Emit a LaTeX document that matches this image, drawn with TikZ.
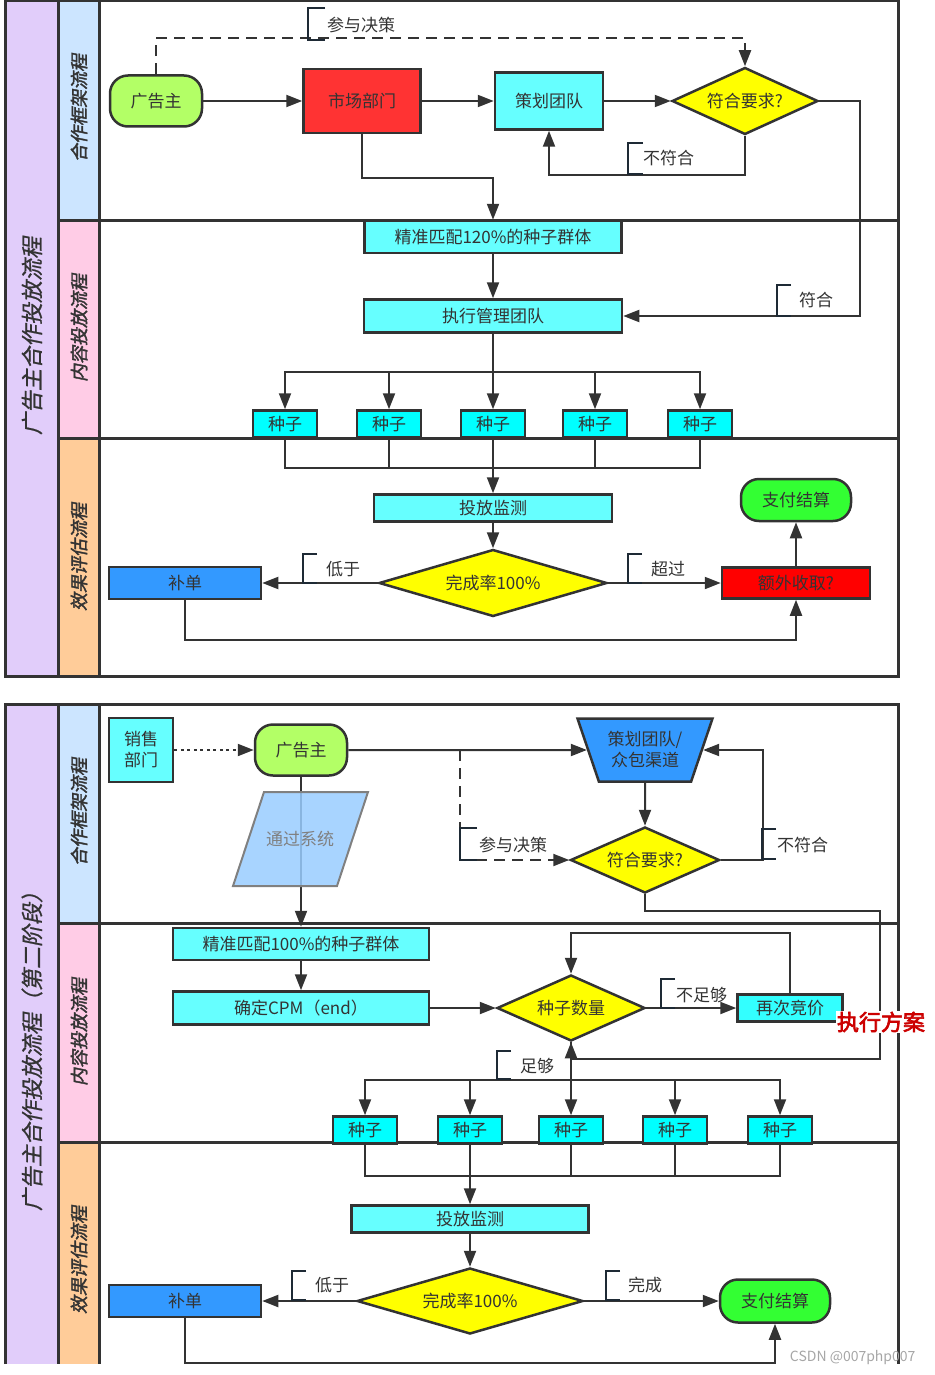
\documentclass[tikz,border=0pt]{standalone}
\usepackage{fontspec}
\setmainfont{Noto Sans CJK SC}
\newfontfamily\lanefont[FakeBold=2,FakeSlant=0.2]{Noto Sans CJK SC}
\newfontfamily\titlefont[FakeBold=0.8,FakeSlant=0.2]{Noto Sans CJK SC}
\newfontfamily\planfont[FakeBold=3]{Noto Sans CJK SC}
\usetikzlibrary{arrows.meta,shapes.geometric,positioning}
\definecolor{linegray}{HTML}{333333}
\definecolor{txtgray}{HTML}{333333}
\definecolor{brkcol}{HTML}{1E2A35}
\definecolor{purp}{HTML}{E1CDFA}
\definecolor{laneA}{HTML}{CCE5FF}
\definecolor{laneB}{HTML}{FFCCE6}
\definecolor{laneC}{HTML}{FFCC99}
\definecolor{adgreen}{HTML}{B3FF66}
\definecolor{mkred}{HTML}{FF3333}
\definecolor{procyan}{HTML}{66FFFF}
\definecolor{seedcyan}{HTML}{00FFFF}
\definecolor{bidcyan}{HTML}{33FFFF}
\definecolor{decyel}{HTML}{FFFF00}
\definecolor{bublue}{HTML}{3399FF}
\definecolor{xtred}{HTML}{FF0000}
\definecolor{paygreen}{HTML}{33FF33}
\definecolor{sysblue}{HTML}{99CCFF}
\definecolor{planred}{HTML}{CC0000}
\tikzset{box/.style={draw=linegray, line width=2.5pt, inner sep=0pt, text=txtgray}}
\tikzset{proc/.style={box, rectangle, fill=procyan}}
\tikzset{seed/.style={box, rectangle, fill=seedcyan, minimum width=64pt, minimum height=27pt}}
\tikzset{term/.style={box, rectangle, rounded corners=18pt}}
\tikzset{dec/.style={box, diamond, fill=decyel}}
\tikzset{flow/.style={draw=linegray, line width=2pt, ->}}
\tikzset{wire/.style={draw=linegray, line width=2pt}}
\tikzset{brk/.style={draw=brkcol, line width=2.2pt}}
\tikzset{lbl/.style={anchor=west, inner sep=0pt, text=txtgray}}
\tikzset{frame/.style={draw=linegray, line width=3pt}}
\tikzset{lanetxt/.style={rotate=90, text=txtgray, font=\lanefont\fontsize{18}{20}\selectfont}}
\tikzset{ttltxt/.style={rotate=90, text=txtgray, font=\titlefont\fontsize{22}{26}\selectfont}}

\begin{document}
\begin{tikzpicture}[x=1pt, y=-1pt, >={Triangle[length=16pt,width=12pt]},
    every node/.style={font=\fontsize{17}{21}\selectfont}]
  \useasboundingbox (0,0) rectangle (934,1375);

  % first stage
  \fill[purp] (5,1) rectangle (58,676);
  \fill[laneA] (58,1) rectangle (99,220);
  \fill[laneB] (58,220) rectangle (99,438);
  \fill[laneC] (58,438) rectangle (99,676);
  \draw[frame] (5,1) rectangle (898,676);
  \draw[frame] (58,1) -- (58,676);
  \draw[frame] (99,1) -- (99,676);
  \draw[frame] (58,220) -- (898,220);
  \draw[frame] (58,438) -- (898,438);
  \node[ttltxt] (ttl1) at (32,336) {广告主合作投放流程};
  \node[lanetxt] (ln11) at (79,108) {合作框架流程};
  \node[lanetxt] (ln12) at (79,328) {内容投放流程};
  \node[lanetxt] (ln13) at (79,557) {效果评估流程};

  \node[term, fill=adgreen, minimum width=92pt, minimum height=51pt] (ad1) at (156,101) {广告主};
  \node[proc, fill=mkred, minimum width=117pt, minimum height=64pt] (mk1) at (362,101) {市场部门};
  \node[proc, minimum width=108pt, minimum height=57pt] (pl1) at (549,101) {策划团队};
  \node[dec, aspect=2.2, minimum width=146pt, minimum height=67pt] (ok1) at (745,101) {符合要求?};
  \node[proc, minimum width=257pt, minimum height=32pt] (pm1) at (493,237) {精准匹配120\%的种子群体};
  \node[proc, minimum width=258pt, minimum height=33pt] (ex1) at (493,316) {执行管理团队};
  \foreach \n/\x in {1/285,2/389,3/493,4/595,5/700}
    \node[seed] (sd1\n) at (\x,424) {种子};
  \node[proc, minimum width=238pt, minimum height=27pt] (mo1) at (493,508) {投放监测};
  \node[dec, aspect=3.4, minimum width=228pt, minimum height=67pt] (rt1) at (493,583) {完成率100\%};
  \node[proc, fill=bublue, minimum width=152pt, minimum height=32pt] (bu1) at (185,583) {补单};
  \node[proc, fill=xtred, minimum width=148pt, minimum height=31pt] (xt1) at (796,583) {额外收取?};
  \node[term, fill=paygreen, minimum width=110pt, minimum height=42pt] (pay1) at (796,500) {支付结算};

  \draw[flow] (ad1) -- (mk1);
  \draw[flow] (mk1) -- (pl1);
  \draw[flow] (pl1) -- (ok1);
  \draw[flow, dash pattern=on 11pt off 7pt] (ad1.north) -- ++(0,-36) -| (ok1);
  \draw[flow] (ok1.south) -- ++(0,39) -| (pl1);
  \draw[flow] (ok1.east) -- ++(41,0) |- (ex1);
  \draw[flow] (mk1.south) -- ++(0,44) -| (pm1);
  \draw[flow] (pm1) -- (ex1);
  \draw[wire] (ex1.south) -- ++(0,38) coordinate (br1);
  \foreach \n in {1,...,5}
    \draw[flow] (br1) -| (sd1\n);
  \path (sd13.south) ++(0,29) coordinate (mg1);
  \foreach \n in {1,...,5}
    \draw[wire] (sd1\n.south) |- (mg1);
  \draw[flow] (mg1) -- (mo1);
  \draw[flow] (mo1) -- (rt1);
  \draw[flow] (rt1) -- (bu1);
  \draw[flow] (rt1) -- (xt1);
  \draw[flow] (xt1) -- (pay1);
  \draw[flow] (bu1.south) -- ++(0,40) -| (xt1);

  \draw[brk] (325,8) -| (308,40) -- (325,40);
  \node[lbl] (lb11) at (327,25) {参与决策};
  \draw[brk] (643,143) -| (628,174) -- (643,174);
  \node[lbl] (lb12) at (643,158) {不符合};
  \draw[brk] (791,285) -| (777,316) -- (791,316);
  \node[lbl] (lb13) at (799,300) {符合};
  \draw[brk] (317,554) -| (303,583) -- (317,583);
  \node[lbl] (lb14) at (326,569) {低于};
  \draw[brk] (642,554) -| (628,583) -- (642,583);
  \node[lbl] (lb15) at (651,569) {超过};

  % second stage
  \fill[purp] (5,704) rectangle (58,1364);
  \fill[laneA] (58,704) rectangle (99,923);
  \fill[laneB] (58,923) rectangle (99,1142);
  \fill[laneC] (58,1142) rectangle (99,1364);
  \draw[frame] (5,1364) -- (5,704) -- (898,704) -- (898,1364);
  \draw[frame] (58,704) -- (58,1364);
  \draw[frame] (99,704) -- (99,1364);
  \draw[frame] (58,923) -- (898,923);
  \draw[frame] (58,1142) -- (898,1142);
  \node[ttltxt] (ttl2) at (32,1046) {广告主合作投放流程（第二阶段）};
  \node[lanetxt] (ln21) at (79,812) {合作框架流程};
  \node[lanetxt] (ln22) at (79,1032) {内容投放流程};
  \node[lanetxt] (ln23) at (79,1260) {效果评估流程};

  \node[proc, minimum width=64pt, minimum height=64pt, align=center] (sale2) at (141,750) {销售\\部门};
  \node[term, fill=adgreen, minimum width=92pt, minimum height=51pt] (ad2) at (301,750) {广告主};
  \node[box, trapezium, trapezium angle=70, shape border rotate=180, trapezium stretches body,
    inner ysep=11pt, minimum width=135pt, minimum height=63pt, fill=bublue, align=center] (tm2) at (645,750) {策划团队/\\众包渠道};
  \node[dec, aspect=2.2, minimum width=149pt, minimum height=66pt] (ok2) at (645,860) {符合要求?};
  \node[proc, minimum width=256pt, minimum height=32pt] (pm2) at (301,944) {精准匹配100\%的种子群体};
  \node[proc, minimum width=256pt, minimum height=33pt] (cpm2) at (301,1008) {确定CPM（end）};
  \node[dec, aspect=2.2, minimum width=148pt, minimum height=66pt] (qt2) at (571,1008) {种子数量};
  \node[proc, fill=bidcyan, minimum width=105pt, minimum height=27pt] (bid2) at (790,1008) {再次竞价};
  \foreach \n/\x in {1/365,2/470,3/571,4/675,5/780}
    \node[seed] (sd2\n) at (\x,1130) {种子};
  \node[proc, minimum width=237pt, minimum height=27pt] (mo2) at (470,1219) {投放监测};
  \node[dec, aspect=3.4, minimum width=226pt, minimum height=66pt] (rt2) at (470,1301) {完成率100\%};
  \node[proc, fill=bublue, minimum width=152pt, minimum height=32pt] (bu2) at (185,1301) {补单};
  \node[term, fill=paygreen, minimum width=110pt, minimum height=43pt] (pay2) at (775,1301) {支付结算};

  \draw[flow, dash pattern=on 3pt off 3.5pt] (sale2) -- (ad2);
  \draw[flow] (ad2) -- (tm2);
  \draw[flow] (ad2) -- (pm2);
  \filldraw[draw=gray, line width=2pt, fill=sysblue, fill opacity=0.85]
    (264,792) -- (368,792) -- (337,886) -- (233,886) -- cycle;
  \node[text=gray] (sys2) at (300,839) {通过系统};
  \coordinate (dv2) at (460,750);
  \draw[flow, dash pattern=on 11pt off 7pt] (dv2) |- (ok2);
  \draw[flow] (tm2) -- (ok2);
  \draw[flow] (ok2.east) -- ++(42,0) |- (tm2);
  \draw[flow] (pm2) -- (cpm2);
  \draw[flow] (cpm2) -- (qt2);
  \draw[flow] (qt2) -- (bid2);
  \draw[flow] (bid2.north) -- ++(0,-60) -| (qt2);
  \draw[flow] (ok2.south) -- ++(0,17) -| ++(235,148) -| (qt2);
  \draw[wire] (qt2.south) -- ++(0,38) coordinate (br2);
  \foreach \n in {1,...,5}
    \draw[flow] (br2) -| (sd2\n);
  \path (sd22.south) ++(0,31) coordinate (mg2);
  \foreach \n in {1,...,5}
    \draw[wire] (sd2\n.south) |- (mg2);
  \draw[flow] (mg2) -- (mo2);
  \draw[flow] (mo2) -- (rt2);
  \draw[flow] (rt2) -- (bu2);
  \draw[flow] (rt2) -- (pay2);
  \draw[flow] (bu2.south) -- ++(0,45) -| (pay2);

  \draw[brk] (477,828) -| (460,860) -- (477,860);
  \node[lbl] (lb21) at (479,845) {参与决策};
  \draw[brk] (776,829) -| (762,859) -- (776,859);
  \node[lbl] (lb22) at (777,845) {不符合};
  \draw[brk] (675,979) -| (661,1008) -- (675,1008);
  \node[lbl] (lb23) at (676,995) {不足够};
  \draw[brk] (511,1051) -| (497,1079) -- (511,1079);
  \node[lbl] (lb24) at (520,1066) {足够};
  \draw[brk] (306,1271) -| (292,1300) -- (306,1300);
  \node[lbl] (lb25) at (315,1285) {低于};
  \draw[brk] (620,1271) -| (606,1300) -- (620,1300);
  \node[lbl] (lb26) at (628,1285) {完成};

  \node[fill=white, text=planred, inner sep=1pt, font=\planfont\fontsize{22}{24}\selectfont] (plan2) at (881,1022) {执行方案};
  \node[anchor=east, text=gray!70, font=\fontsize{14}{16}\selectfont] (wm) at (919,1358) {CSDN @007php007};
\end{tikzpicture}
\end{document}
